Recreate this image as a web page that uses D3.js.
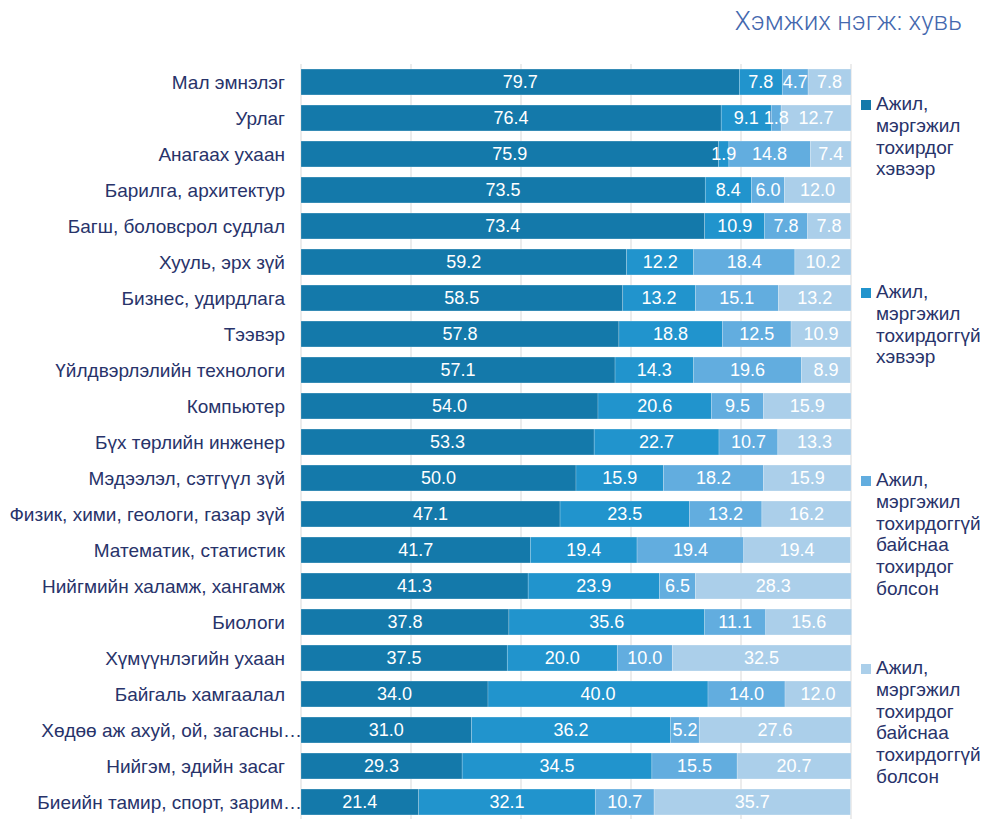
<!DOCTYPE html>
<html>
<head>
<meta charset="utf-8">
<script src="https://cdn.jsdelivr.net/npm/d3@7"></script>
<style>
  body { margin: 0; background: #fff; }
  svg { display: block; }
</style>
</head>
<body>
<svg id="chart" width="986" height="819"></svg>
<script>
// Categories, top to bottom
const categories = [
  "Мал эмнэлэг", "Урлаг", "Анагаах ухаан", "Барилга, архитектур",
  "Багш, боловсрол судлал", "Хууль, эрх зүй", "Бизнес, удирдлага", "Тээвэр",
  "Үйлдвэрлэлийн технологи", "Компьютер", "Бүх төрлийн инженер",
  "Мэдээлэл, сэтгүүл зүй", "Физик, хими, геологи, газар зүй",
  "Математик, статистик", "Нийгмийн халамж, хангамж", "Биологи",
  "Хүмүүнлэгийн ухаан", "Байгаль хамгаалал", "Хөдөө аж ахуй, ой, загасны…",
  "Нийгэм, эдийн засаг", "Биеийн тамир, спорт, зарим…"
];

// Series values (%)
const stayMatch = [79.7, 76.4, 75.9, 73.5, 73.4, 59.2, 58.5, 57.8, 57.1, 54.0, 53.3, 50.0, 47.1, 41.7, 41.3, 37.8, 37.5, 34.0, 31.0, 29.3, 21.4];
const stayNoMatch = [7.8, 9.1, 1.9, 8.4, 10.9, 12.2, 13.2, 18.8, 14.3, 20.6, 22.7, 15.9, 23.5, 19.4, 23.9, 35.6, 20.0, 40.0, 36.2, 34.5, 32.1];
const becameMatch = [4.7, 1.8, 14.8, 6.0, 7.8, 18.4, 15.1, 12.5, 19.6, 9.5, 10.7, 18.2, 13.2, 19.4, 6.5, 11.1, 10.0, 14.0, 5.2, 15.5, 10.7];
const becameNoMatch = [7.8, 12.7, 7.4, 12.0, 7.8, 10.2, 13.2, 10.9, 8.9, 15.9, 13.3, 15.9, 16.2, 19.4, 28.3, 15.6, 32.5, 12.0, 27.6, 20.7, 35.7];

const seriesNames = [
  ["Ажил,", "мэргэжил", "тохирдог", "хэвээр"],
  ["Ажил,", "мэргэжил", "тохирдоггүй", "хэвээр"],
  ["Ажил,", "мэргэжил", "тохирдоггүй", "байснаа", "тохирдог", "болсон"],
  ["Ажил,", "мэргэжил", "тохирдог", "байснаа", "тохирдоггүй", "болсон"]
];
const colors = ["#1479aa", "#2194cd", "#62addf", "#abcfea"];
const xTicks = [0, 20, 40, 60, 80, 100];

const svg = d3.select("#chart");
const textColor = "#28336a";
const font = "'Liberation Sans', Arial, sans-serif";

// Scales
const x = d3.scaleLinear().domain([0, 100]).range([301, 851]);
const y = d3.scaleBand().domain(categories).range([64, 820])
  .paddingInner(0.28).paddingOuter(0.14);

// Title
svg.append("text")
  .attr("x", 962).attr("y", 30)
  .attr("text-anchor", "end")
  .attr("font-family", "Roboto, 'Liberation Sans', sans-serif")
  .attr("font-weight", 300)
  .attr("font-size", 26)
  .attr("fill", "#4468ae")
  .text("Хэмжих нэгж: хувь");

// Gridlines
svg.append("g")
  .selectAll("line")
  .data(xTicks)
  .enter()
  .append("line")
  .attr("x1", d => x(d)).attr("x2", d => x(d))
  .attr("y1", 64).attr("y2", 819)
  .attr("stroke", "#d9d9d9")
  .attr("stroke-width", 1);

// Stack the series
const rows = categories.map((c, i) => ({
  cat: c, s0: stayMatch[i], s1: stayNoMatch[i], s2: becameMatch[i], s3: becameNoMatch[i]
}));
const stacked = d3.stack().keys(["s0", "s1", "s2", "s3"])(rows);

svg.append("g")
  .selectAll("g")
  .data(stacked)
  .enter()
  .append("g")
  .attr("fill", (d, i) => colors[i])
  .selectAll("rect")
  .data(d => d)
  .enter()
  .append("rect")
  .attr("x", d => x(d[0]))
  .attr("y", d => y(d.data.cat))
  .attr("width", d => x(d[1]) - x(d[0]))
  .attr("height", y.bandwidth())
  .attr("stroke", "#ffffff")
  .attr("stroke-opacity", 0.35)
  .attr("stroke-width", 0.6);

// Value labels drawn on top of all bars
svg.append("g")
  .selectAll("g")
  .data(stacked)
  .enter()
  .append("g")
  .selectAll("text")
  .data(d => d)
  .enter()
  .append("text")
  .attr("x", d => (x(d[0]) + x(d[1])) / 2)
  .attr("y", d => y(d.data.cat) + y.bandwidth() / 2)
  .attr("dy", "0.36em")
  .attr("text-anchor", "middle")
  .attr("font-family", font)
  .attr("font-size", 18)
  .attr("fill", "#ffffff")
  .text(d => (d[1] - d[0]).toFixed(1));

// Category labels
svg.append("g")
  .selectAll("text")
  .data(categories)
  .enter()
  .append("text")
  .attr("x", d => d.endsWith("…") ? 302 : 285)
  .attr("y", d => y(d) + y.bandwidth() / 2)
  .attr("dy", "0.36em")
  .attr("text-anchor", "end")
  .attr("font-family", font)
  .attr("font-size", 19)
  .attr("fill", textColor)
  .text(d => d);

// Legend
const legend = svg.append("g")
  .selectAll("g")
  .data(seriesNames)
  .enter()
  .append("g")
  .attr("transform", (d, i) => `translate(861, ${110 + i * 188})`);

legend.append("rect")
  .attr("x", 0).attr("y", -10)
  .attr("width", 10).attr("height", 10)
  .attr("fill", (d, i) => colors[i]);

legend.append("text")
  .attr("font-family", font)
  .attr("font-size", 19)
  .attr("fill", textColor)
  .selectAll("tspan")
  .data(d => d)
  .enter()
  .append("tspan")
  .attr("x", 15)
  .attr("dy", (d, i) => i === 0 ? 0 : 21.8)
  .text(d => d);
</script>
</body>
</html>
